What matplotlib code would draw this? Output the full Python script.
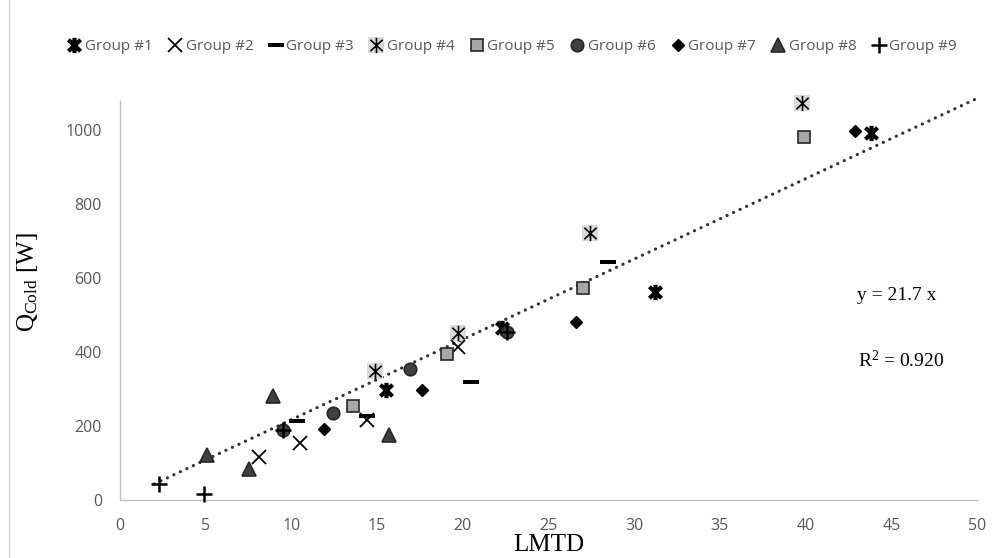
import matplotlib
matplotlib.use("Agg")
import matplotlib.pyplot as plt
import numpy as np
from matplotlib.path import Path
from matplotlib.legend_handler import HandlerTuple
from matplotlib.lines import Line2D

plt.rcParams['mathtext.fontset'] = 'custom'
plt.rcParams['mathtext.rm'] = 'Liberation Serif'
plt.rcParams['mathtext.it'] = 'Liberation Serif:italic'

# ---- data (LMTD [K], Q_cold [W]) ----
g1_x = [15.5, 22.3, 31.2, 43.8]
g1_y = [297, 465, 562, 992]
g2_x = [8.1, 10.5, 14.4, 19.7]
g2_y = [117, 153, 216, 414]
g3_x = [10.3, 14.4, 20.5, 28.5]
g3_y = [214, 227, 319, 643]
g4_x = [14.9, 19.7, 27.4, 39.8]
g4_y = [349, 451, 721, 1073]
g5_x = [13.6, 19.1, 27.0, 39.9]
g5_y = [254, 395, 572, 981]
g6_x = [9.5, 12.4, 16.9, 22.6]
g6_y = [189, 235, 353, 455]
g7_x = [11.9, 17.6, 26.6, 42.9]
g7_y = [192, 297, 481, 997]
g8_x = [5.1, 7.5, 8.9, 15.7]
g8_y = [122, 84, 281, 176]
g9_x = [2.3, 4.9, 9.5, 22.6]
g9_y = [43, 16, 189, 455]

slope = 21.7
r2 = 0.920
trend_x = [2.0, 50.0]

group_names = ["Group #1", "Group #2", "Group #3", "Group #4", "Group #5",
               "Group #6", "Group #7", "Group #8", "Group #9"]

# ---- custom markers ----
star_path = Path([(0, -1), (0, 1), (-0.8, -0.75), (0.8, 0.75), (-0.8, 0.75), (0.8, -0.75)],
                 [Path.MOVETO, Path.LINETO, Path.MOVETO, Path.LINETO, Path.MOVETO, Path.LINETO])
dash_path = Path([(-1, -0.24), (1, -0.24), (1, 0.24), (-1, 0.24), (-1, -0.24)],
                 [Path.MOVETO, Path.LINETO, Path.LINETO, Path.LINETO, Path.CLOSEPOLY])

fig = plt.figure(figsize=(10.01, 5.58), dpi=100)
ax = fig.add_axes([120/1001, 58/558, (977-120)/1001, (500-101)/558])

tick_color = '#595959'

kw = dict(ls='none', clip_on=False)
h1, = ax.plot(g1_x, g1_y, marker=star_path, ms=11, mew=3.0, color='black', zorder=5, **kw)
h2, = ax.plot(g2_x, g2_y, marker='x', ms=10, mew=1.3, color='black', zorder=5, **kw)
h3, = ax.plot(g3_x, g3_y, marker=dash_path, ms=11, mew=0, color='black', zorder=5, **kw)
h4a, = ax.plot(g4_x, g4_y, marker='s', ms=11.5, mew=0, color='#d9d9d9', zorder=4, **kw)
h4b, = ax.plot(g4_x, g4_y, marker=star_path, ms=11, mew=1.2, color='black', zorder=5, **kw)
h5, = ax.plot(g5_x, g5_y, marker='s', ms=8.5, mew=1.2, mfc='#a6a6a6', mec='#262626', zorder=5, **kw)
h6, = ax.plot(g6_x, g6_y, marker='o', ms=9, mew=1.2, mfc='#404040', mec='#262626', zorder=5, **kw)
h7, = ax.plot(g7_x, g7_y, marker='D', ms=6.5, mew=1.0, mfc='black', mec='black', zorder=5, **kw)
h8, = ax.plot(g8_x, g8_y, marker='^', ms=9.5, mew=1.2, mfc='#404040', mec='#262626', zorder=5, **kw)
h9, = ax.plot(g9_x, g9_y, marker='+', ms=11, mew=1.8, color='black', zorder=6, **kw)

tx = np.array(trend_x)
ax.plot(tx, slope * tx, color='#333333', lw=2.3, linestyle=(0, (0.05, 2.2)),
        dash_capstyle='round', zorder=3, clip_on=False)

ax.set_xlim(0, 50)
ax.set_ylim(0, 1078)
ax.set_xticks(np.arange(0, 51, 5))
ax.set_yticks(np.arange(0, 1001, 200))
for s in ['top', 'right']:
    ax.spines[s].set_visible(False)
for s in ['left', 'bottom']:
    ax.spines[s].set_color('#bfbfbf')
    ax.spines[s].set_linewidth(1.0)
ax.tick_params(axis='both', length=0, colors=tick_color, labelsize=11.5, pad=13)
for lab in ax.get_xticklabels() + ax.get_yticklabels():
    lab.set_fontfamily('Open Sans')

ax.set_xlabel('LMTD', family='Liberation Serif', fontsize=18, color='black', labelpad=0)
ax.set_ylabel(r'Q$_{\mathrm{Cold}}$ [W]', family='Liberation Serif', fontsize=18, color='black')
ax.yaxis.set_label_coords(-0.093, 0.545)

fig.text(897/1001, 1 - 296/558, 'y = 21.7 x', family='Liberation Serif', fontsize=14,
         ha='center', va='center')
fig.text(901/1001, 1 - 361/558, r'R$^{2}$ = 0.920', family='Liberation Serif', fontsize=14,
         ha='center', va='center')

handles = [h1, h2, h3, (h4a, h4b), h5, h6, h7, h8, h9]
leg = fig.legend(handles, group_names, loc='center', bbox_to_anchor=(512/1001, 1 - 47/558),
                 ncol=9, frameon=False, handlelength=1.0, handletextpad=0.2,
                 columnspacing=0.95, prop={'family': 'Open Sans', 'size': 11},
                 handler_map={tuple: HandlerTuple(ndivide=1)})
for t in leg.get_texts():
    t.set_color(tick_color)

fig.add_artist(Line2D([9/1001, 9/1001], [0, 1], color='#d9d9d9', lw=1.0))

fig.savefig('out.png', dpi=100)
